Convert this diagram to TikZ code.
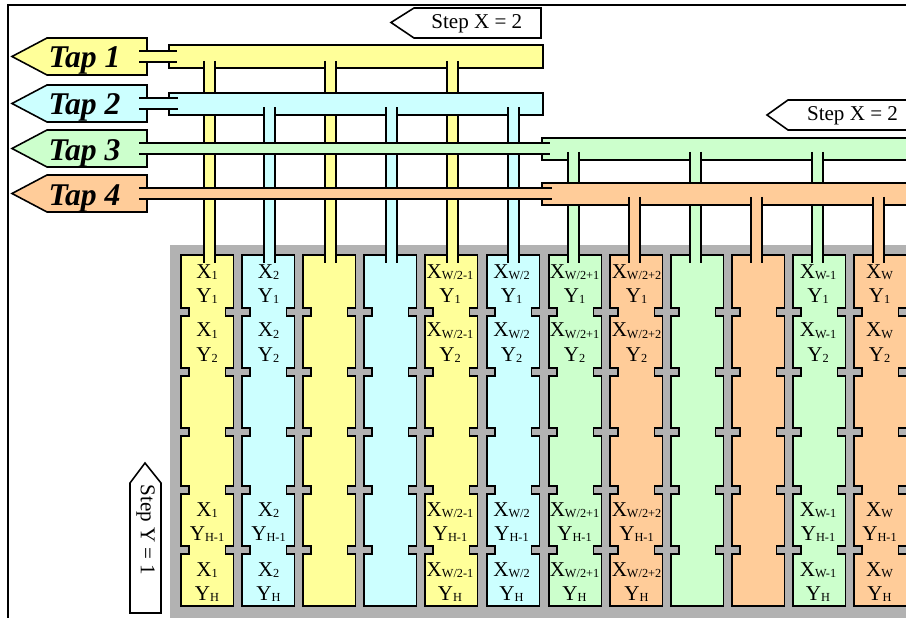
\documentclass[tikz,border=0pt]{standalone}
\usepackage{fontspec}
\setmainfont{Liberation Serif}
\definecolor{tapyellow}{HTML}{FFFF99}
\definecolor{tapcyan}{HTML}{CCFFFF}
\definecolor{tapgreen}{HTML}{CCFFCC}
\definecolor{taporange}{HTML}{FFCC99}
\definecolor{diegray}{HTML}{B2B2B2}
\tikzset{
  wire/.style={line width=0.9pt, draw=black},
  cellbox/.style={wire, line join=miter},
  flag/.style={wire, line join=miter},
  taplabel/.style={font=\fontsize{18}{20}\selectfont\bfseries\itshape, inner sep=0pt, anchor=base},
  steplabel/.style={font=\fontsize{12}{14}\selectfont, inner sep=0pt, anchor=base},
  celllabel/.style={font=\fontsize{12}{14}\selectfont, inner sep=0pt, anchor=base},
}
% main letter with its small index
\newcommand{\idx}[2]{#1\raisebox{-0.7pt}{\fontsize{7}{8}\selectfont #2}}
% one column of pixels, #1 = left edge
\newcommand{\cellcol}[2]{
  \draw[cellbox, fill=#2] (#1,255) -- (#1+52.5,255)
    -- (#1+52.5,308) -- ++(-8,0) -- ++(0,8) -- ++(8,0)
    -- (#1+52.5,368) -- ++(-8,0) -- ++(0,8) -- ++(8,0)
    -- (#1+52.5,428) -- ++(-8,0) -- ++(0,8) -- ++(8,0)
    -- (#1+52.5,486) -- ++(-8,0) -- ++(0,8) -- ++(8,0)
    -- (#1+52.5,546) -- ++(-8,0) -- ++(0,8) -- ++(8,0)
    -- (#1+52.5,606) -- (#1,606)
    -- (#1,554) -- ++(8,0) -- ++(0,-8) -- ++(-8,0)
    -- (#1,494) -- ++(8,0) -- ++(0,-8) -- ++(-8,0)
    -- (#1,436) -- ++(8,0) -- ++(0,-8) -- ++(-8,0)
    -- (#1,376) -- ++(8,0) -- ++(0,-8) -- ++(-8,0)
    -- (#1,316) -- ++(8,0) -- ++(0,-8) -- ++(-8,0) -- cycle;
}
% stem from a bus down into its column, #1 = centre, #2 = top, #3 = colour
\newcommand{\busstem}[3]{
  \fill[#3] (#1-5.5,#2) rectangle (#1+5.5,263);
  \draw[wire] (#1-5.5,#2) -- (#1-5.5,263);
  \draw[wire] (#1+5.5,#2) -- (#1+5.5,263);
}
% feed from a tap flag to its bus, #1 = top, #2 = right end, #3 = colour
\newcommand{\tapfeed}[3]{
  \fill[#3] (139,#1) rectangle (#2,#1+11);
  \draw[wire] (139,#1) -- (#2,#1);
  \draw[wire] (139,#1+11) -- (#2,#1+11);
}
% labels of one column, #1 = name, #2 = centre, #3 = X index
\newcommand{\celltexts}[3]{
  \node[celllabel] (x#1a) at (#2,278) {\idx{X}{#3}};
  \node[celllabel] (y#1a) at (#2,302) {\idx{Y}{1}};
  \node[celllabel] (x#1b) at (#2,337) {\idx{X}{#3}};
  \node[celllabel] (y#1b) at (#2,361.5) {\idx{Y}{2}};
  \node[celllabel] (x#1c) at (#2,516.7) {\idx{X}{#3}};
  \node[celllabel] (y#1c) at (#2,540.7) {\idx{Y}{H-1}};
  \node[celllabel] (x#1d) at (#2,576.7) {\idx{X}{#3}};
  \node[celllabel] (y#1d) at (#2,600.7) {\idx{Y}{H}};
}

\begin{document}
\begin{tikzpicture}[x=0.02cm, y=-0.02cm]
\useasboundingbox (0,0) rectangle (906,618);
\clip (0,0) rectangle (906,618);
\draw[wire] (906,5) -- (8,5) -- (8,620);
\fill[diegray] (170,245) rectangle (906,618);
\cellcol{181}{tapyellow}
\cellcol{242}{tapcyan}
\cellcol{303}{tapyellow}
\cellcol{364}{tapcyan}
\cellcol{425}{tapyellow}
\cellcol{487}{tapcyan}
\cellcol{549}{tapgreen}
\cellcol{610}{taporange}
\cellcol{671}{tapgreen}
\cellcol{732}{taporange}
\cellcol{793}{tapgreen}
\cellcol{854}{taporange}
% step arrows
\draw[flag, fill=white] (391,22.5) -- (414,8) -- (541,8) -- (541,38) -- (414,38) -- cycle;
\node[steplabel] (stepx1) at (476.8,28.5) {Step X = 2};
\draw[flag, fill=white] (767,115) -- (788,100) -- (916,100) -- (916,130) -- (788,130) -- cycle;
\node[steplabel] (stepx2) at (852.5,120.7) {Step X = 2};
\draw[flag, fill=white] (145,463) -- (161,483) -- (161,613) -- (130,613) -- (130,483) -- cycle;
\node[steplabel, anchor=center, rotate=-90] (stepy) at (145.5,530) {Step Y = 1};
% tap flags
\draw[flag, fill=tapyellow] (12,56.5) -- (47,38) -- (147,38) -- (147,75) -- (47,75) -- cycle;
\node[taplabel] (tap1) at (84.5,68) {Tap 1};
\draw[flag, fill=tapcyan] (12,103.5) -- (47,85) -- (147,85) -- (147,122) -- (47,122) -- cycle;
\node[taplabel] (tap2) at (84.5,115) {Tap 2};
\draw[flag, fill=tapgreen] (12,148.5) -- (47,130) -- (147,130) -- (147,167) -- (47,167) -- cycle;
\node[taplabel] (tap3) at (84.5,160.5) {Tap 3};
\draw[flag, fill=taporange] (12,193.5) -- (47,175) -- (147,175) -- (147,212) -- (47,212) -- cycle;
\node[taplabel] (tap4) at (84.5,206) {Tap 4};
% yellow bus
\draw[flag, fill=tapyellow] (169,45) rectangle (543,68);
\tapfeed{51}{177}{tapyellow}
\busstem{209.5}{61}{tapyellow}
\busstem{330.5}{61}{tapyellow}
\busstem{452.5}{61}{tapyellow}
% cyan bus
\draw[flag, fill=tapcyan] (169,93) rectangle (543,115);
\tapfeed{98}{178}{tapcyan}
\busstem{269.5}{107.5}{tapcyan}
\busstem{391.5}{107.5}{tapcyan}
\busstem{513.5}{107.5}{tapcyan}
% green bus
\draw[flag, fill=tapgreen] (542,138) rectangle (920,160);
\tapfeed{143}{550}{tapgreen}
\busstem{573.5}{152}{tapgreen}
\busstem{695.5}{152}{tapgreen}
\busstem{817.5}{152}{tapgreen}
% orange bus
\draw[flag, fill=taporange] (542,183) rectangle (920,205);
\tapfeed{188}{552}{taporange}
\busstem{634.5}{197}{taporange}
\busstem{756.5}{197}{taporange}
\busstem{878.5}{197}{taporange}
% cell labels
\celltexts{a}{207}{1}
\celltexts{b}{268.5}{2}
\celltexts{e}{450}{W/2-1}
\celltexts{f}{511.5}{W/2}
\celltexts{g}{574.5}{W/2+1}
\celltexts{h}{636.5}{W/2+2}
\celltexts{k}{818}{W-1}
\celltexts{l}{879.5}{W}
\end{tikzpicture}
\end{document}
